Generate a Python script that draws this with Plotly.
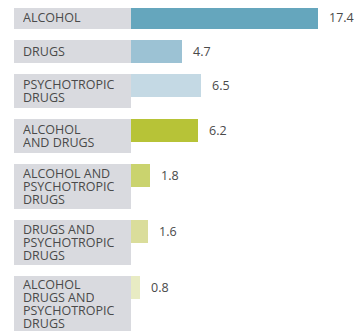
import plotly.graph_objects as go

# data
categories = [
    "ALCOHOL",
    "DRUGS",
    "PSYCHOTROPIC<br>DRUGS",
    "ALCOHOL<br>AND DRUGS",
    "ALCOHOL AND<br>PSYCHOTROPIC<br>DRUGS",
    "DRUGS AND<br>PSYCHOTROPIC<br>DRUGS",
    "ALCOHOL<br>DRUGS AND<br>PSYCHOTROPIC<br>DRUGS",
]
values = [17.4, 4.7, 6.5, 6.2, 1.8, 1.6, 0.8]
value_labels = ["17.4", "4.7", "6.5", "6.2", "1.8", "1.6", "0.8"]
bar_colors = ["#65a6bd", "#9cc2d4", "#c4d9e4", "#b7c337", "#cad36e", "#dadd9b", "#e8ebc3"]

# layout constants (pixels); the page body adds an 8px margin
OFF = 8
W, H = 362 - OFF, 331 - OFF
origin_px = 131 - OFF     # where the bars start
box_left_px = 14 - OFF    # left edge of grey label boxes
px_per_unit = 187 / 17.4
bar_h = 23
line_h = 13.3
gap = 11
top0 = 6 - OFF

x_min = -origin_px / px_per_unit
x_max = (W - origin_px) / px_per_unit
box_len = (origin_px - box_left_px) / px_per_unit

# vertical positions from the number of label lines
n_lines = [c.count("<br>") + 1 for c in categories]
box_h = [11 * n + 12 for n in n_lines]
tops = []
t = top0
for h in box_h:
    tops.append(t)
    t += h + gap
bar_y = [tp + bar_h / 2 for tp in tops]
box_y = [tp + h / 2 for tp, h in zip(tops, box_h)]

font = "Open Sans, Noto Sans, sans-serif"
txt_col = "#4a4a4a"

fig = go.Figure()

# grey label boxes
fig.add_trace(go.Bar(
    orientation="h",
    y=box_y,
    x=[box_len] * len(categories),
    base=[-box_len] * len(categories),
    width=box_h,
    marker=dict(color="#d9dadf", line=dict(width=0)),
    hoverinfo="skip",
))

# value bars
fig.add_trace(go.Bar(
    orientation="h",
    y=bar_y,
    x=values,
    base=0,
    width=[bar_h] * len(values),
    marker=dict(color=bar_colors, line=dict(width=0)),
    hovertext=[c.replace("<br>", " ") for c in categories],
    hoverinfo="text+x",
))

annotations = []
for cat, cy, n in zip(categories, box_y, n_lines):
    for k, line in enumerate(cat.split("<br>")):
        annotations.append(dict(
            x=-box_len, y=cy + (k - (n - 1) / 2) * line_h,
            xref="x", yref="y",
            text=line, showarrow=False, height=13,
            xanchor="left", yanchor="middle", xshift=7, yshift=0,
            font=dict(family=font, size=12.5, color=txt_col),
        ))
for v, lab, by in zip(values, value_labels, bar_y):
    annotations.append(dict(
        x=v, y=by, xref="x", yref="y",
        text=lab, showarrow=False,
        xanchor="left", yanchor="middle", xshift=9,
        font=dict(family=font, size=12.5, color=txt_col),
    ))

fig.update_layout(
    width=W, height=H,
    margin=dict(l=0, r=0, t=0, b=0),
    barmode="overlay",
    bargap=0,
    showlegend=False,
    plot_bgcolor="white",
    paper_bgcolor="white",
    xaxis=dict(range=[x_min, x_max], visible=False, fixedrange=True),
    yaxis=dict(range=[H, 0], visible=False, fixedrange=True),
    annotations=annotations,
)

fig.write_html("out.html")
